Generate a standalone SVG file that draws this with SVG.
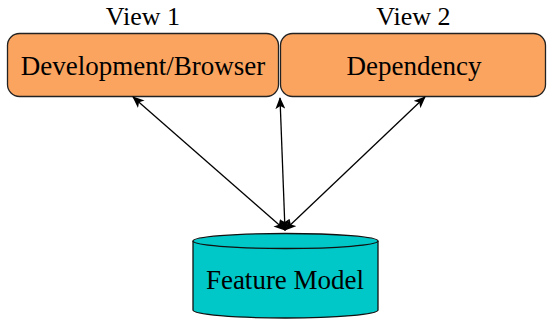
<svg xmlns="http://www.w3.org/2000/svg" width="547" height="322" viewBox="0 0 547 322">
<style>
text{font-family:"Liberation Serif","Times New Roman",serif;fill:#000}
.box{fill:#FBA45F;stroke:#222;stroke-width:1.3}
.cyl{fill:#00C8C8;stroke:#111;stroke-width:1.3}
.edge{stroke:#000;stroke-width:1.3;fill:none;marker-start:url(#ah);marker-end:url(#ah)}
</style>
<defs>
<marker id="ah" viewBox="0 0 12 10" refX="11" refY="5" markerWidth="12" markerHeight="10" markerUnits="userSpaceOnUse" orient="auto-start-reverse">
<path d="M0,0 L12,5 L0,10 L3,5 Z" fill="#000"/>
</marker>
</defs>
<g id="view1">
<text x="143" y="25" font-size="26" text-anchor="middle">View 1</text>
<rect class="box" x="7.5" y="33.5" width="271" height="63" rx="12"/>
<text x="143" y="75" font-size="27" text-anchor="middle">Development/Browser</text>
</g>
<g id="view2">
<text x="413.5" y="25" font-size="26" text-anchor="middle">View 2</text>
<rect class="box" x="280.5" y="33.5" width="265" height="63" rx="12"/>
<text x="414" y="75" font-size="27" text-anchor="middle">Dependency</text>
</g>
<g id="featuremodel">
<path class="cyl" d="M193,241 L193,310 A92.5,8 0 0 0 378,310 L378,241 A92.5,7.5 0 0 0 193,241 Z"/>
<path class="cyl" d="M193,241 A92.5,7.5 0 0 0 378,241" fill="none"/>
<text x="285" y="289" font-size="27" text-anchor="middle">Feature Model</text>
</g>
<g id="connectors">
<line class="edge" x1="133" y1="97" x2="285" y2="230"/>
<line class="edge" x1="280" y1="98" x2="285" y2="230"/>
<line class="edge" x1="425" y1="97" x2="285" y2="230"/>
</g>
</svg>
